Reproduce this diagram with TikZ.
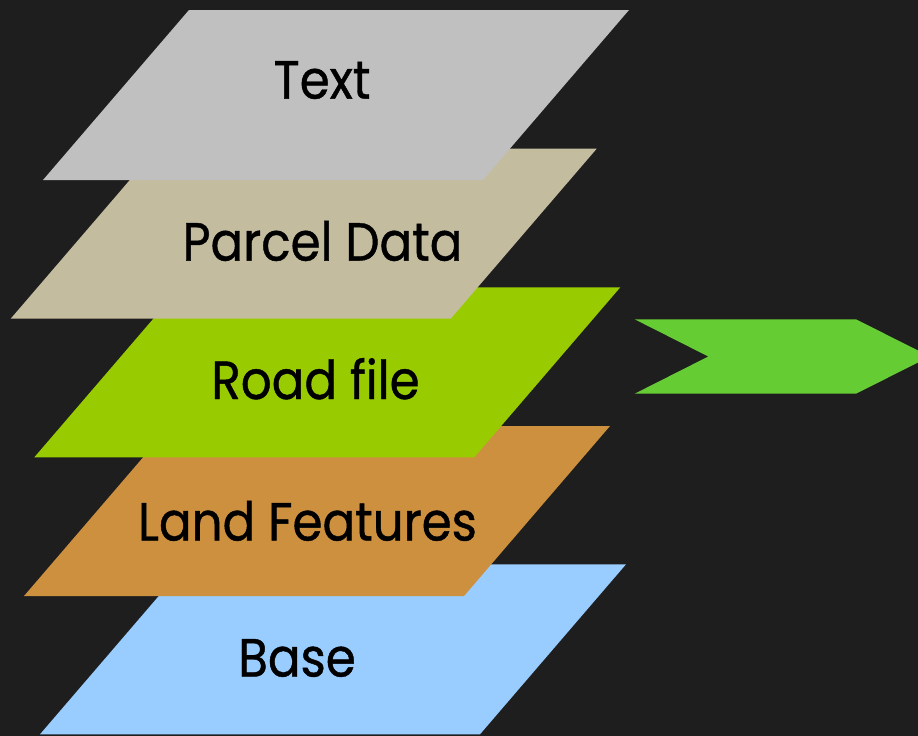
\documentclass[tikz,border=0pt]{standalone}
\usepackage{fontspec}
\setmainfont{Poppins}[FakeStretch=0.9,FakeBold=0.8]
\definecolor{bg}{HTML}{1E1E1E}
\definecolor{ctext}{HTML}{C0C0C0}
\definecolor{cparcel}{HTML}{C4BC9F}
\definecolor{croad}{HTML}{99CC00}
\definecolor{cland}{HTML}{CC903F}
\definecolor{cbase}{HTML}{99CCFF}
\definecolor{carrow}{HTML}{66CC33}
\newcommand\layerpg[3]{%
  \fill[#3] ({#2-440},#1) -- (#2,#1) -- ({#2-146},{#1+170}) -- ({#2-586},{#1+170}) -- cycle;}
\begin{document}
\begin{tikzpicture}[x=1pt,y=-1pt,
  lbl/.style={anchor=base,inner sep=0pt,text=black,font=\fontsize{53.7}{60}\selectfont}]
\fill[bg] (0,0) rectangle (918,736);
\useasboundingbox (0,0) rectangle (918,736);
\clip (0,0) rectangle (918,736);
\layerpg{564.3}{626}{cbase}
\layerpg{426}{610}{cland}
\layerpg{287.3}{620.3}{croad}
\layerpg{148.7}{596.7}{cparcel}
\layerpg{10}{629}{ctext}
\fill[carrow] (634.7,319.3) -- (856,319.3) -- (930,356.5) -- (856,393.7) -- (634.7,393.7) -- (708.3,356.5) -- cycle;
\node[lbl] (ltext) at (322,98.6) {Text};
\node[lbl] (lparcel) at (322.5,260.6) {Parcel Data};
\node[lbl] (lroad) at (315.5,399) {Road file};
\node[lbl] (lland) at (307.5,540.5) {Land Features};
\node[lbl] (lbase) at (297,676.5) {Base};
\end{tikzpicture}
\end{document}
